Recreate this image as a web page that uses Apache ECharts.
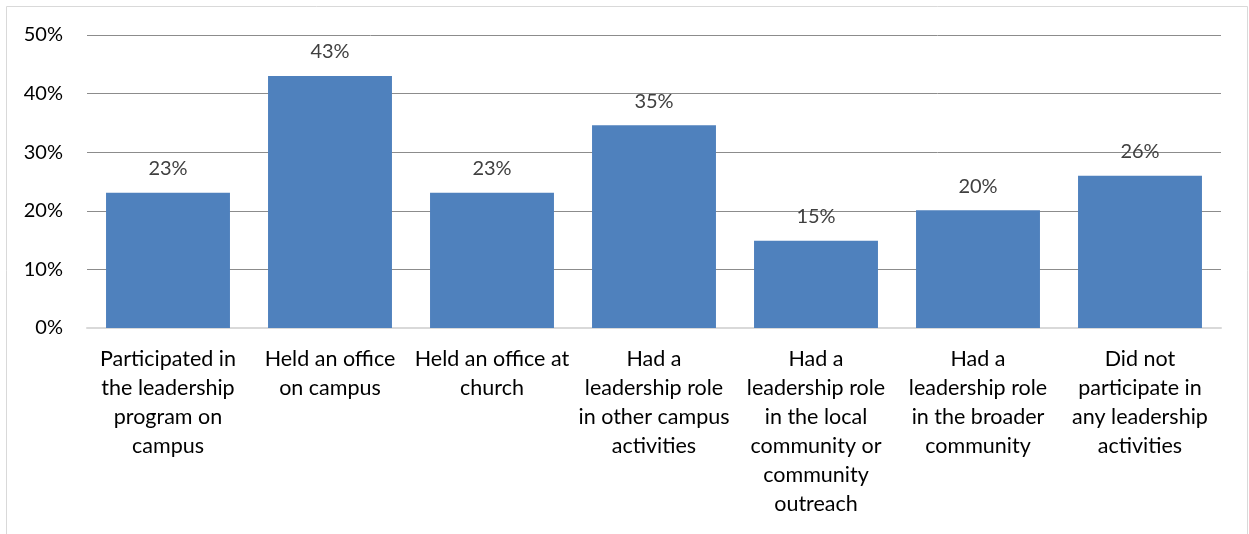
<!DOCTYPE html>
<html>
<head>
<meta charset="utf-8">
<script src="https://cdn.jsdelivr.net/npm/echarts@6/dist/echarts.min.js"></script>
<style>
html,body{margin:0;padding:0;background:#fff;}
#chart{width:1249px;height:534px;}
</style>
</head>
<body>
<div id="chart"></div>
<script>
const categories = [
  "Participated in\nthe leadership\nprogram on\ncampus",
  "Held an office\non campus",
  "Held an office at\nchurch",
  "Had a\nleadership role\nin other campus\nactivities",
  "Had a\nleadership role\nin the local\ncommunity or\ncommunity\noutreach",
  "Had a\nleadership role\nin the broader\ncommunity",
  "Did not\nparticipate in\nany leadership\nactivities"
];
const values = [23.1, 43, 23.1, 34.6, 14.9, 20.1, 26];
const yTicks = [0, 10, 20, 30, 40, 50];

const FONT = 'Lato';
const chart = echarts.init(document.getElementById('chart'));
chart.setOption({
  animation: false,
  textStyle: { fontFamily: FONT },
  grid: { left: 87, right: 28, top: 35, bottom: 206, containLabel: false },
  graphic: [{
    type: 'rect', silent: true, z: -1,
    shape: { x: 6.5, y: 6.5, width: 1241, height: 600 },
    style: { fill: 'none', stroke: '#d9d9d9', lineWidth: 1 }
  }],
  xAxis: {
    type: 'category',
    data: categories,
    axisLine: { lineStyle: { color: '#d9d9d9', width: 2 } },
    axisTick: { show: false },
    axisLabel: {
      interval: 0, margin: 17, color: '#000', fontFamily: FONT,
      fontSize: 21.5, lineHeight: 29, align: 'center'
    }
  },
  yAxis: {
    type: 'value',
    min: yTicks[0], max: yTicks[yTicks.length - 1], interval: 10,
    axisLine: { show: false },
    axisTick: { show: false },
    splitLine: { lineStyle: { color: '#8c8c8c', width: 1 } },
    axisLabel: {
      margin: 24, color: '#000', fontFamily: FONT, fontSize: 20,
      formatter: v => v + '%'
    }
  },
  series: [{
    type: 'bar',
    data: values,
    barCategoryGap: '23.5%',
    itemStyle: { color: '#4f81bd' },
    label: {
      show: true, position: 'top', distance: 12,
      color: '#404040', fontFamily: FONT, fontSize: 20, lineHeight: 24,
      formatter: p => Math.round(p.value) + '%'
    }
  }]
});
</script>
</body>
</html>
